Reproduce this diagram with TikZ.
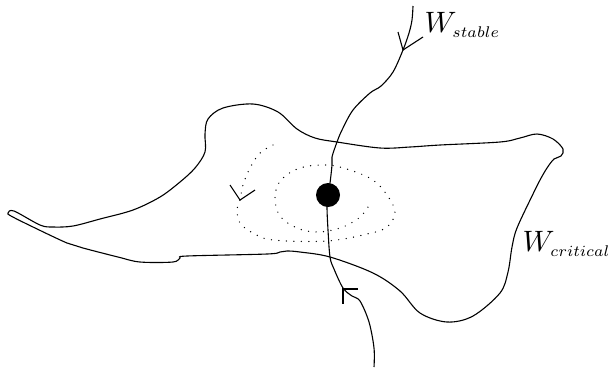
\documentclass[tikz,border=0pt]{standalone}
\begin{document}
\begin{tikzpicture}[x=1pt,y=-1pt,
  curve/.style={line width=1.1pt, line join=round},
  spiral/.style={line width=1.4pt, line cap=round, dash pattern=on 0pt off 7.5pt},
  tip/.style={line width=1.1pt},
  lbl/.style={scale=2.95, inner sep=0pt, anchor=west}]
\useasboundingbox (0,0) rectangle (609,368);
% critical manifold (closed curve)
\draw[curve] plot[smooth cycle, tension=0.55] coordinates {
 (8,213) (14,211) (40,225) (53,227) (73,226) (100,219) (133,210) (160,197)
 (180,182) (195,168) (205,152) (205,134) (208,119) (223,108) (253,104)
 (278,112) (297,129) (315,138) (337,142) (380,148) (410,147) (440,145)
 (500,142) (520,138) (537,134) (553,139) (563,149) (561,156) (554,159)
 (547,168) (540,180) (533,194) (517,228) (512,247) (508,272) (500,293)
 (473,316) (447,322) (420,313) (400,291) (373,273) (330,257) (300,252)
 (287,251) (280,252) (267,254) (187,256) (180,258) (173,262) (140,262)
 (118,257) (83,248) (67,243) (33,227) (11,216)};
% stable manifold
\draw[curve] plot[smooth, tension=0.55] coordinates {
 (413,6) (412,20) (409,33) (403,50) (393,72) (381,86) (370,93) (353,110)
 (342,130) (337,142) (332,157) (332,165) (330,183) (328,195)};
\draw[curve] plot[smooth, tension=0.55] coordinates {
 (328,195) (327,207) (328,230) (330,257) (334,269) (343,288) (352,296)
 (360,301) (369,322) (374,348) (374,367)};
% saddle point
\node[circle, fill=black, minimum size=24pt, inner sep=0pt] (s) at (328,195) {};
% dotted spiral
\draw[spiral] plot[smooth, tension=0.6] coordinates {
 (273,145) (260,153) (250,168) (243,185) (240,200) (237,209) (240,223)
 (253,233) (273,240) (327,241) (367,234) (387,227) (395,212) (387,195)
 (373,180) (350,170) (327,165) (300,168) (281,180) (275,197) (280,216)
 (297,228) (317,232) (340,228) (359,218) (368,207)};
% arrowheads
\coordinate (a1) at (403,50);
\draw[tip] (398,32) -- (a1) -- (423,37);
\coordinate (a2) at (343,289);
\draw[tip] (358,289) -- (a2) -- (343,304);
\coordinate (a3) at (240,200);
\draw[tip] (230,185) -- (a3) -- (255,190);
% labels
\node[lbl] (ls) at (424,25) {$W_{\scalebox{0.75}{$\scriptstyle stable$}}$};
\node[lbl] (lc) at (522,244) {$W_{\scalebox{0.75}{$\scriptstyle critical$}}$};
\end{tikzpicture}
\end{document}
